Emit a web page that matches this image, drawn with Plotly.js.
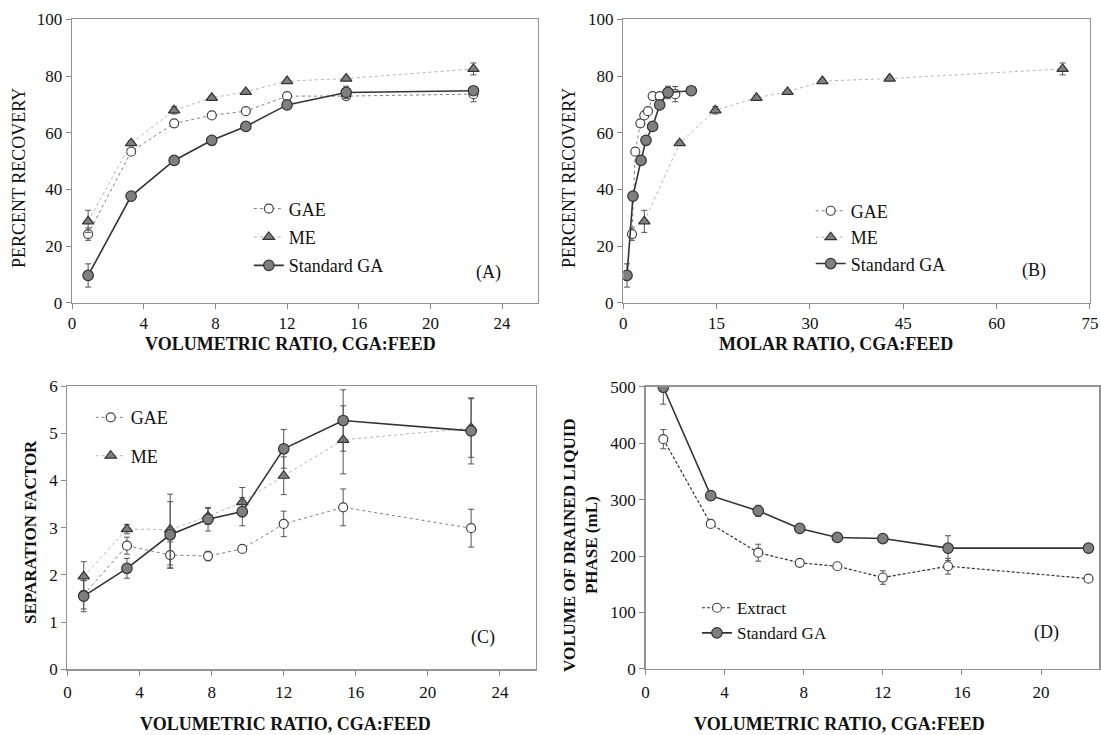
<!DOCTYPE html>
<html>
<head>
<meta charset="utf-8">
<script src="https://cdn.plot.ly/plotly-3.0.1.min.js"></script>
<style>html,body{margin:0;padding:0;background:#fff;}#chart{width:1101px;height:735px;}</style>
</head>
<body>
<div id="chart"></div>
<script>
// ---------- data ----------
const volRatio = [0.9, 3.3, 5.7, 7.8, 9.7, 12.0, 15.3, 22.4];

// Panel A / B : percent recovery
const gaeRecovery    = [24.2, 53.3, 63.3, 66.1, 67.6, 72.9, 72.9, 73.6];
const gaeRecoveryErr = [2.2, 1.0, 1.3, 0.8, 0.8, 1.0, 0.8, 2.7];
const meRecovery     = [28.7, 56.3, 67.9, 72.3, 74.4, 78.2, 79.1, 82.5];
const meRecoveryErr  = [3.9, 0.8, 1.3, 0.6, 0.6, 0.6, 0.8, 2.1];
const stdRecovery    = [9.6, 37.6, 50.2, 57.3, 62.2, 69.8, 74.2, 74.8];
const stdRecoveryErr = [4.1, 0.6, 0.6, 0.8, 0.6, 0.8, 2.2, 0.6];

// Panel B : molar ratios
const gaeMolar = [1.40, 1.93, 2.74, 3.38, 3.97, 4.72, 5.85, 8.36];
const meMolar  = [3.38, 9.06, 14.8, 21.4, 26.4, 32.0, 42.8, 70.6];
const stdMolar = [0.6, 1.56, 2.85, 3.65, 4.72, 5.85, 7.19, 10.93];

// Panel C : separation factor
const gaeSep    = [1.58, 2.62, 2.42, 2.40, 2.55, 3.08, 3.43, 2.99];
const gaeSepErr = [0.3, 0.18, 0.28, 0.1, 0.06, 0.27, 0.39, 0.4];
const meSep     = [1.97, 2.97, 2.96, 3.24, 3.54, 4.10, 4.86, 5.11];
const meSepErr  = [0.31, 0.1, 0.75, 0.17, 0.31, 0.4, 0.72, 0.62];
const stdSep    = [1.55, 2.14, 2.85, 3.18, 3.34, 4.67, 5.27, 5.05];
const stdSepErr = [0.33, 0.21, 0.7, 0.25, 0.3, 0.41, 0.65, 0.7];

// Panel D : volume of drained liquid phase (mL)
const extractVol    = [407, 257, 206, 188, 182, 162, 182, 160];
const extractVolErr = [17, 5, 15, 5, 5, 12, 14, 4];
const stdVol        = [499, 307, 280, 249, 233, 231, 214, 214];
const stdVolErr     = [30, 5, 10, 5, 5, 5, 22, 4];

const xTicksVol = [0, 4, 8, 12, 16, 20, 24];
const xTicksVolD = [0, 4, 8, 12, 16, 20];
const xTicksMolar = [0, 15, 30, 45, 60, 75];

// ---------- styles ----------
const FONT = 'Liberation Serif';
const dark = '#333333';
const grayFill = '#7f7f7f';
const errStyle = (arr) => ({type: 'data', array: arr, visible: true, color: '#555', thickness: 1, width: 3});

const gaeMarker = {symbol: 'circle', size: 9, color: '#ffffff', line: {color: '#444', width: 1.2}};
const meMarker  = {symbol: 'triangle-up', size: 10, color: grayFill, line: {color: dark, width: 1.2}};
const stdMarker = {symbol: 'circle', size: 10.5, color: grayFill, line: {color: dark, width: 1.2}};
const gaeLine = {color: '#808080', width: 1, dash: 'dot'};
const meLine  = {color: '#b5b5b5', width: 1, dash: 'dot'};
const stdLine = {color: dark, width: 1.6};

function tr(x, y, err, name, marker, line, xa, ya, leg, show) {
  return {x: x, y: y, error_y: errStyle(err), name: name, type: 'scatter', mode: 'lines+markers',
          marker: marker, line: line, xaxis: xa, yaxis: ya, legend: leg, legendgroup: leg + name,
          showlegend: show, cliponaxis: true};
}

const data = [
  tr(volRatio, gaeRecovery, gaeRecoveryErr, 'GAE', gaeMarker, gaeLine, 'x', 'y', 'legend', true),
  tr(volRatio, meRecovery, meRecoveryErr, 'ME', meMarker, meLine, 'x', 'y', 'legend', true),
  tr(volRatio, stdRecovery, stdRecoveryErr, 'Standard GA', stdMarker, stdLine, 'x', 'y', 'legend', true),

  tr(gaeMolar, gaeRecovery, gaeRecoveryErr, 'GAE', gaeMarker, gaeLine, 'x2', 'y2', 'legend2', true),
  tr(meMolar, meRecovery, meRecoveryErr, 'ME', meMarker, meLine, 'x2', 'y2', 'legend2', true),
  tr(stdMolar, stdRecovery, stdRecoveryErr, 'Standard GA', stdMarker, stdLine, 'x2', 'y2', 'legend2', true),

  tr(volRatio, gaeSep, gaeSepErr, 'GAE', gaeMarker, gaeLine, 'x3', 'y3', 'legend3', true),
  tr(volRatio, meSep, meSepErr, 'ME', meMarker, meLine, 'x3', 'y3', 'legend3', true),
  tr(volRatio, stdSep, stdSepErr, 'Standard GA', stdMarker, stdLine, 'x3', 'y3', 'legend3', false),

  tr(volRatio, extractVol, extractVolErr, 'Extract', gaeMarker, {color: dark, width: 1.2, dash: '3px,2px'}, 'x4', 'y4', 'legend4', true),
  tr(volRatio, stdVol, stdVolErr, 'Standard GA', stdMarker, stdLine, 'x4', 'y4', 'legend4', true)
];

function axis(domain, range, extra) {
  return Object.assign({
    domain: domain, range: range, showgrid: false, zeroline: false,
    showline: true, linecolor: '#939393', linewidth: 1.3, mirror: true,
    ticks: 'outside', ticklen: 5, tickcolor: '#8a8a8a', tickwidth: 1,
    tickfont: {family: FONT, size: 17, color: '#111'}, fixedrange: true
  }, extra);
}

function legend(x, y, gap, size, order) {
  return {x: x, y: y, xanchor: 'left', yanchor: 'top', bgcolor: 'rgba(0,0,0,0)', borderwidth: 0,
          font: {family: FONT, size: size, color: '#111'}, traceorder: order, tracegroupgap: gap, itemwidth: 30};
}

function ann(text, x, y, angle, bold, size) {
  return {text: bold ? '<b>' + text + '</b>' : text, x: x / 1101, y: 1 - y / 735, xref: 'paper', yref: 'paper',
          showarrow: false, textangle: angle, font: {family: FONT, size: size || 17, color: '#111'},
          xanchor: 'center', yanchor: 'middle'};
}
function tag(text, xa, x, y) {
  return {text: text, x: x, y: y, xref: xa + ' domain', yref: xa.replace('x', 'y') + ' domain',
          showarrow: false, font: {family: FONT, size: 18, color: '#111'}, xanchor: 'center', yanchor: 'middle'};
}

const layout = {
  width: 1101, height: 735,
  margin: {l: 0, r: 0, t: 0, b: 0},
  paper_bgcolor: '#fff', plot_bgcolor: '#fff',
  font: {family: FONT, color: '#111'},
  xaxis:  axis([0.0654, 0.4886], [0, 26], {anchor: 'y', tickvals: xTicksVol, ticklabelstandoff: 0}),
  yaxis:  axis([0.5882, 0.9737], [0, 100], {anchor: 'x', dtick: 20}),
  xaxis2: axis([0.5661, 0.9900], [0, 75], {anchor: 'y2', tickvals: xTicksMolar, ticklabelstandoff: 0}),
  yaxis2: axis([0.5882, 0.9737], [0, 100], {anchor: 'x2', dtick: 20}),
  xaxis3: axis([0.0613, 0.4868], [0, 26], {anchor: 'y3', tickvals: xTicksVol, ticklabelstandoff: 2}),
  yaxis3: axis([0.0893, 0.4748], [0, 6], {anchor: 'x3', dtick: 1}),
  xaxis4: axis([0.5863, 0.9985], [0, 22.95], {anchor: 'y4', tickvals: xTicksVolD, ticklabelstandoff: 2}),
  yaxis4: axis([0.0898, 0.4739], [0, 500], {anchor: 'x4', dtick: 100}),
  legend:  legend(0.226, 0.741, 2, 18, 'grouped'),
  legend2: legend(0.7363, 0.738, 0, 18, 'grouped'),
  legend3: legend(0.0824, 0.457, 12, 18, 'grouped'),
  legend4: legend(0.633, 0.197, 0, 17, 'normal'),
  annotations: [
    ann('VOLUMETRIC RATIO, CGA:FEED', 290, 344, 0, true, 18),
    ann('MOLAR RATIO, CGA:FEED', 836, 344, 0, true, 18),
    ann('VOLUMETRIC RATIO, CGA:FEED', 285, 724, 0, true, 18),
    ann('VOLUMETRIC RATIO, CGA:FEED', 839, 724, 0, true, 18),
    ann('PERCENT RECOVERY', 19, 178, -90, false, 18),
    ann('PERCENT RECOVERY', 569, 178, -90, false, 18),
    ann('SEPARATION FACTOR', 30, 532, -90, true, 17),
    ann('VOLUME OF DRAINED LIQUID<br>PHASE (mL)', 580, 545, -90, true, 17),
    tag('(A)', 'x', 0.893, 0.108),
    tag('(B)', 'x2', 0.88, 0.113),
    tag('(C)', 'x3', 0.887, 0.114),
    tag('(D)', 'x4', 0.883, 0.129)
  ]
};

Plotly.newPlot('chart', data, layout, {displayModeBar: false, staticPlot: true});
</script>
</body>
</html>
